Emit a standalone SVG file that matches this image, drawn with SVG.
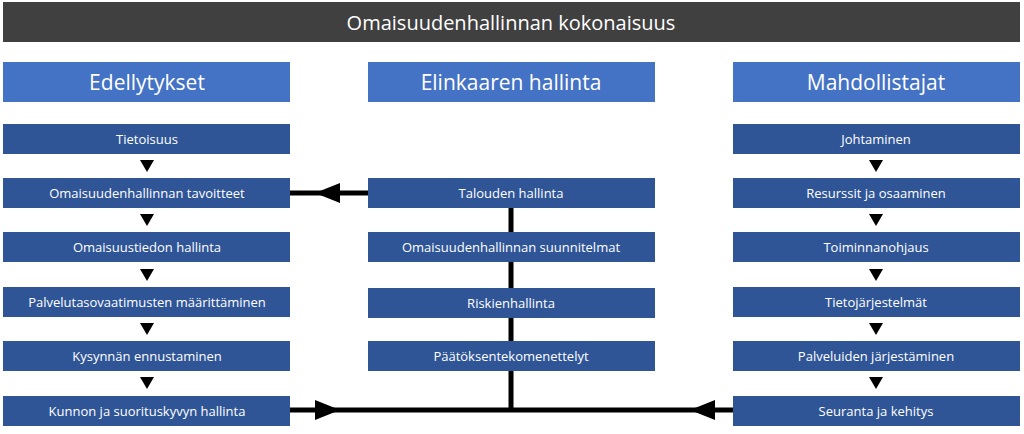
<svg xmlns="http://www.w3.org/2000/svg" width="1024" height="434" viewBox="0 0 1024 434">
<style>
.b{fill:#2F5597}.h{fill:#4472C4}
.t{font-family:"Open Sans","Liberation Sans",sans-serif;fill:#fff;text-anchor:middle;dominant-baseline:central;font-size:13px}
.ht{font-size:21px}.tt{font-size:20px}
.tri{fill:#000}
.ln{stroke:#000;stroke-width:5;fill:none}
</style>
<rect width="1024" height="434" fill="#fff"/>
<g id="title"><rect x="3" y="2" width="1017" height="40" fill="#404040"/><text class="t tt" x="511" y="22">Omaisuudenhallinnan kokonaisuus</text></g>
<g id="h1"><rect class="h" x="3" y="62" width="287" height="40"/><text class="t ht" x="147" y="82">Edellytykset</text></g>
<g id="h2"><rect class="h" x="368" y="62" width="287" height="40"/><text class="t ht" x="511" y="82">Elinkaaren hallinta</text></g>
<g id="h3"><rect class="h" x="733" y="62" width="287" height="40"/><text class="t ht" x="876" y="82">Mahdollistajat</text></g>
<g id="connectors">
<path class="ln" d="M511 208V410M290 410H733M368 193H290"/>
<polygon class="tri" points="315,193 340,183 340,203"/>
<polygon class="tri" points="340,410 315,400 315,420"/>
<polygon class="tri" points="690,410 715,400 715,420"/>
<g id="small-arrows">
<polygon class="tri" points="140,160 154,160 147,172"/>
<polygon class="tri" points="140,214 154,214 147,226"/>
<polygon class="tri" points="140,269 154,269 147,281"/>
<polygon class="tri" points="140,323 154,323 147,335"/>
<polygon class="tri" points="140,377 154,377 147,389"/>
<polygon class="tri" points="869,160 883,160 876,172"/>
<polygon class="tri" points="869,214 883,214 876,226"/>
<polygon class="tri" points="869,269 883,269 876,281"/>
<polygon class="tri" points="869,323 883,323 876,335"/>
<polygon class="tri" points="869,377 883,377 876,389"/>
</g>
</g>
<g id="l1"><rect class="b" x="3" y="124" width="287" height="30"/><text class="t" x="147" y="139">Tietoisuus</text></g>
<g id="l2"><rect class="b" x="3" y="178" width="287" height="30"/><text class="t" x="147" y="193">Omaisuudenhallinnan tavoitteet</text></g>
<g id="l3"><rect class="b" x="3" y="232" width="287" height="30"/><text class="t" x="147" y="247">Omaisuustiedon hallinta</text></g>
<g id="l4"><rect class="b" x="3" y="287" width="287" height="30"/><text class="t" x="147" y="302">Palvelutasovaatimusten määrittäminen</text></g>
<g id="l5"><rect class="b" x="3" y="341" width="287" height="30"/><text class="t" x="147" y="356">Kysynnän ennustaminen</text></g>
<g id="l6"><rect class="b" x="3" y="396" width="287" height="30"/><text class="t" x="147" y="411">Kunnon ja suorituskyvyn hallinta</text></g>
<g id="c1"><rect class="b" x="368" y="178" width="287" height="30"/><text class="t" x="511" y="193">Talouden hallinta</text></g>
<g id="c2"><rect class="b" x="368" y="232" width="287" height="30"/><text class="t" x="511" y="247">Omaisuudenhallinnan suunnitelmat</text></g>
<g id="c3"><rect class="b" x="368" y="288" width="287" height="30"/><text class="t" x="511" y="303">Riskienhallinta</text></g>
<g id="c4"><rect class="b" x="368" y="341" width="287" height="30"/><text class="t" x="511" y="356">Päätöksentekomenettelyt</text></g>
<g id="r1"><rect class="b" x="733" y="124" width="287" height="30"/><text class="t" x="876" y="139">Johtaminen</text></g>
<g id="r2"><rect class="b" x="733" y="178" width="287" height="30"/><text class="t" x="876" y="193">Resurssit ja osaaminen</text></g>
<g id="r3"><rect class="b" x="733" y="232" width="287" height="30"/><text class="t" x="876" y="247">Toiminnanohjaus</text></g>
<g id="r4"><rect class="b" x="733" y="287" width="287" height="30"/><text class="t" x="876" y="302">Tietojärjestelmät</text></g>
<g id="r5"><rect class="b" x="733" y="341" width="287" height="30"/><text class="t" x="876" y="356">Palveluiden järjestäminen</text></g>
<g id="r6"><rect class="b" x="733" y="396" width="287" height="30"/><text class="t" x="876" y="411">Seuranta ja kehitys</text></g>
</svg>
